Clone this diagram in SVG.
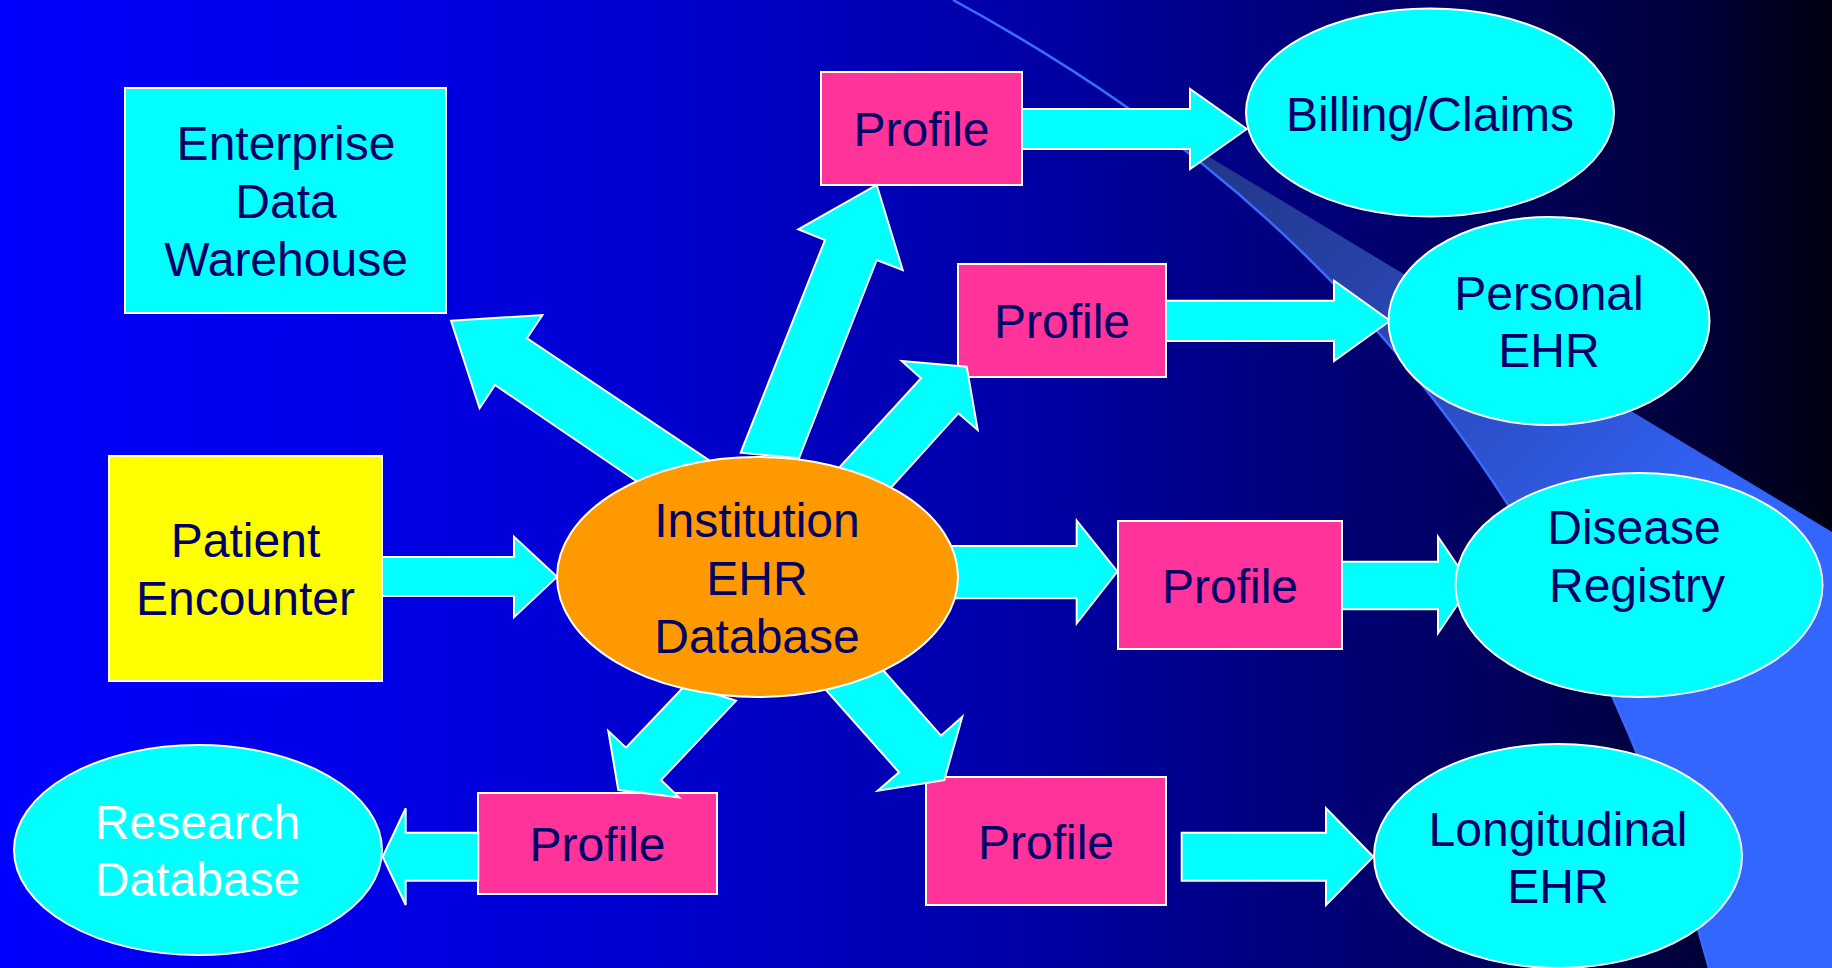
<svg xmlns="http://www.w3.org/2000/svg" width="1832" height="968" viewBox="0 0 1832 968">
<defs>
<linearGradient id="bg" x1="0" y1="0" x2="1" y2="0">
<stop offset="0" stop-color="#0000FF"/>
<stop offset="0.2" stop-color="#0000E6"/>
<stop offset="0.35" stop-color="#0000D0"/>
<stop offset="0.55" stop-color="#0000A8"/>
<stop offset="0.8" stop-color="#000062"/>
<stop offset="0.93" stop-color="#000038"/>
<stop offset="1" stop-color="#000012"/>
</linearGradient>
<linearGradient id="wedge" gradientUnits="userSpaceOnUse" x1="1150" y1="120" x2="1650" y2="620">
<stop offset="0" stop-color="#1E3380"/>
<stop offset="0.5" stop-color="#2A48B8"/>
<stop offset="1" stop-color="#3366FF"/>
</linearGradient>
<style>
.arrow{fill:#00FFFF;stroke:#FFFFFF;stroke-width:2;stroke-linejoin:miter}
.profile{fill:#FF3399;stroke:#FFFFFF;stroke-width:2}
.cyan{fill:#00FFFF;stroke:#FFFFFF;stroke-width:2}
.yellow{fill:#FFFF00;stroke:#FFFFFF;stroke-width:2}
.orange{fill:#FF9900;stroke:#FFFFFF;stroke-width:2}
text{font-family:"Liberation Sans",Arial,sans-serif;font-size:48px;fill:#000066;text-anchor:middle}
text.white{fill:#FFFFFF}
</style>
</defs>
<rect x="0" y="0" width="1832" height="968" fill="url(#bg)"/>
<g id="decoration">
<path d="M1128,108 L1832,532 L1832,968 L1709,968 C1600,560 1380,285 1128,108 Z" fill="url(#wedge)"/>
<path d="M953,0 Q1045,50 1128,108 C1380,285 1600,560 1709,968" fill="none" stroke="#3A6CFF" stroke-width="2.5"/>
</g>
<g id="profile1"><rect class="profile" x="821" y="72" width="201" height="113"/><text x="921.5" y="146">Profile</text></g>
<g id="profile2"><rect class="profile" x="958" y="264" width="208" height="113"/><text x="1062" y="338">Profile</text></g>
<g id="profile3"><rect class="profile" x="1118" y="521" width="224" height="128"/><text x="1230" y="603">Profile</text></g>
<g id="profile4"><rect class="profile" x="926" y="777" width="240" height="128"/><text x="1046" y="859">Profile</text></g>
<g id="profile5"><rect class="profile" x="478" y="793" width="239" height="101"/><text x="597.5" y="861">Profile</text></g>
<g id="connectors">
<path class="arrow" d="M382,557 L514,557 L514,536.7 L557,576.7 L514,617.3 L514,596 L382,596 Z"/>
<path class="arrow" d="M451,320.7 L542.4,315 L527,338.3 L740,481 L670,504 L495,385 L479.6,408.3 Z"/>
<path class="arrow" d="M876.7,185 L902.7,270 L876.7,260 L799,458.3 L740.7,452.7 L825,240 L798.3,229.3 Z"/>
<path class="arrow" d="M966.7,366.7 L977.7,430 L958.3,413.3 L887,492 L836,471 L921,378.3 L901.7,361 Z"/>
<path class="arrow" d="M930,546 L1076.7,546 L1076.7,520.7 L1117.3,571.5 L1076.7,623.3 L1076.7,598.3 L930,598.3 Z"/>
<path class="arrow" d="M1342,561.7 L1438,561.7 L1438,536.7 L1470.7,585 L1438,633.3 L1438,609.3 L1342,609.3 Z"/>
<path class="arrow" d="M1022,109 L1190,109 L1190,89 L1246.7,129 L1190,169 L1190,149 L1022,149 Z"/>
<path class="arrow" d="M1166,300.7 L1334,300.7 L1334,280.7 L1390,320.7 L1334,361 L1334,341 L1166,341 Z"/>
<path class="arrow" d="M818,681 L899,772.3 L877.7,790.7 L944.3,780 L962.3,716.7 L941,735.7 L875,661 Z"/>
<path class="arrow" d="M686,684.5 L626,747.7 L608.3,731 L618.3,790 L679,797.3 L661,780 L736,700.7 Z"/>
<path class="arrow" d="M478.3,832.7 L405.7,832.7 L405.7,808.3 L382.7,856.7 L405.7,905 L405.7,880.7 L478.3,880.7 Z"/>
<path class="arrow" d="M1181.7,832.7 L1326,832.7 L1326,808.3 L1373.3,856.7 L1326,905 L1326,880.7 L1181.7,880.7 Z"/>
</g>
<g id="warehouse"><rect class="cyan" x="125" y="88" width="321" height="225"/><text x="286" y="160">Enterprise</text><text x="286" y="218">Data</text><text x="286" y="276">Warehouse</text></g>
<g id="patient"><rect class="yellow" x="109" y="456" width="273" height="225"/><text x="245.5" y="557">Patient</text><text x="245.5" y="615">Encounter</text></g>
<g id="institution"><ellipse class="orange" cx="757.5" cy="577" rx="200.5" ry="120"/><text x="757" y="537">Institution</text><text x="757" y="595">EHR</text><text x="757" y="653">Database</text></g>
<g id="billing"><ellipse class="cyan" cx="1430" cy="112.5" rx="184" ry="104"/><text x="1430" y="131">Billing/Claims</text></g>
<g id="personal"><ellipse class="cyan" cx="1549" cy="321" rx="160.5" ry="104"/><text x="1549" y="310">Personal</text><text x="1549" y="367">EHR</text></g>
<g id="disease"><ellipse class="cyan" cx="1639" cy="585" rx="183.5" ry="112"/><text x="1634" y="544">Disease</text><text x="1637" y="602">Registry</text></g>
<g id="longitudinal"><ellipse class="cyan" cx="1558" cy="856" rx="184" ry="112"/><text x="1558" y="846">Longitudinal</text><text x="1558" y="903">EHR</text></g>
<g id="research"><ellipse class="cyan" cx="198" cy="850" rx="184" ry="105"/><text class="white" x="197.5" y="839">Research</text><text class="white" x="197.5" y="896">Database</text></g>
</svg>
